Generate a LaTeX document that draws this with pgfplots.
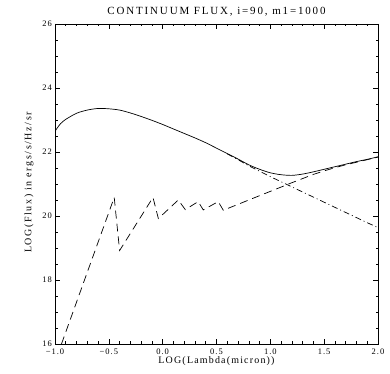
\documentclass[border=0pt]{standalone}
\usepackage{fontspec}
\setmainfont{Liberation Serif}
\newfontfamily\hfont[LetterSpace=12]{Liberation Serif}
\newfontfamily\yfont[LetterSpace=16]{Liberation Serif}
\newfontfamily\tfont[LetterSpace=17]{Liberation Serif}
\usepackage{pgfplots}
\pgfplotsset{compat=1.18}
\begin{document}
\begin{tikzpicture}
\useasboundingbox (-55bp,-30bp) rectangle (335bp,344bp);
\begin{axis}[
  at={(0,0)}, anchor=south west,
  scale only axis, width=323bp, height=320bp,
  xmin=-1, xmax=2, ymin=16, ymax=26,
  xtick={-1,-0.5,0,0.5,1,1.5,2},
  xticklabels={−1.0,−0.5,0.0,0.5,1.0,1.5,2.0},
  ytick={16,18,20,22,24,26},
  yticklabels={16,18,20,22,24,26},
  minor x tick num=4, minor y tick num=3,
  tick align=inside, major tick length=5bp, minor tick length=2.5bp,
  axis line style={line width=0.8bp},
  tick style={line width=0.6bp, black},
  ticklabel style={font=\hfont\fontsize{8.5}{10}\selectfont, inner sep=0.5bp},
  xticklabel style={yshift=-3.8bp},
  yticklabel style={xshift=-2.5bp, yshift=0.4bp},
  title={\tfont\fontsize{11}{13}\selectfont CONTINUUM FLUX, i=90, m1=1000},
  title style={at={(axis description cs:0.5,1)}, anchor=base, yshift=4bp, inner sep=0pt},
  xlabel={\hfont\fontsize{10}{12}\selectfont LOG(Lambda(micron))},
  xlabel style={at={(axis description cs:0.5,0)}, anchor=base, yshift=-19.5bp, inner sep=0pt},
  ylabel={\yfont\fontsize{10}{12}\selectfont LOG(Flux) in ergs/s/Hz/sr},
  ylabel style={at={(axis description cs:-0.0728,0.505)}, anchor=base, inner sep=0pt},
  clip=true,
]
% total (solid)
\addplot[black, line width=0.7bp, smooth, tension=0.5] coordinates {
(-1.0,22.65) (-0.95,22.88) (-0.9,23.02) (-0.8,23.21) (-0.7,23.31) (-0.6,23.36)
(-0.5,23.35) (-0.4,23.31) (-0.3,23.22) (-0.2,23.11) (-0.1,22.99) (0.0,22.86)
(0.1,22.72) (0.2,22.58) (0.3,22.44) (0.4,22.29) (0.5,22.12) (0.6,21.95)
(0.7,21.78) (0.8,21.60) (0.9,21.46) (1.0,21.35) (1.1,21.29) (1.2,21.27)
(1.3,21.31) (1.4,21.38) (1.5,21.46) (1.6,21.54) (1.7,21.62) (1.8,21.70)
(1.9,21.77) (2.0,21.85)
};
% dashed component
\addplot[black, line width=0.7bp, dash pattern=on 8bp off 5bp] coordinates {
(-0.94,16.0) (-0.45,20.58) (-0.40,18.92) (-0.09,20.58) (-0.04,19.92)
(0.145,20.50) (0.21,20.20) (0.33,20.45) (0.377,20.19) (0.516,20.45)
(0.563,20.18) (0.8,20.50) (1.0,20.77) (1.2,21.04) (1.4,21.30) (1.5,21.41)
(1.6,21.51) (1.7,21.60) (1.8,21.68) (1.9,21.76) (2.0,21.84)
};
% dash-dot component
\addplot[black, line width=0.7bp, dash pattern=on 6bp off 3bp on 1bp off 3bp, smooth, tension=0.5] coordinates {
(0.6,21.94) (0.7,21.76) (0.8,21.57) (0.9,21.40) (1.0,21.23) (1.1,21.07)
(1.2,20.91) (1.3,20.75) (1.4,20.59) (1.5,20.43) (1.6,20.27) (1.7,20.11)
(1.8,19.95) (1.9,19.79) (2.0,19.64)
};
\end{axis}
\end{tikzpicture}
\end{document}
